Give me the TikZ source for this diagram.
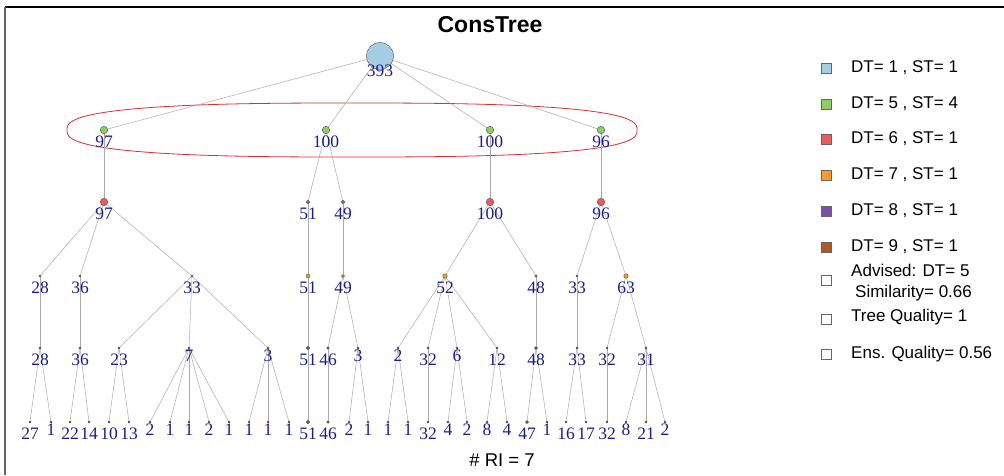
\documentclass[tikz,border=0pt]{standalone}
\usepackage{fontspec}
\setmainfont{Liberation Serif}
\setsansfont{Liberation Sans}
\usetikzlibrary{backgrounds}
\definecolor{NodeBlue}{RGB}{166, 206, 227}
\definecolor{NodeGreen}{RGB}{143, 204, 104}
\definecolor{NodeRed}{RGB}{236, 90, 90}
\definecolor{NodeOrange}{RGB}{255, 153, 43}
\definecolor{NodePurple}{RGB}{123, 79, 166}
\definecolor{NodeBrown}{RGB}{176, 88, 40}
\definecolor{LabelNavy}{RGB}{28, 28, 140}
\definecolor{EdgeGray}{RGB}{170, 170, 170}
\definecolor{RingRed}{RGB}{214, 48, 48}

\begin{document}
\begin{tikzpicture}[x=1pt, y=-1pt,
    dot/.style={circle, draw=black!70, line width=0.4pt, fill=#1, inner sep=0pt},
    num/.style={font=\fontsize{17.5}{18}\selectfont, text=LabelNavy, inner sep=0pt},
    tag/.style={label={[num, yshift=-12pt]center:#1}},
    tagup/.style={label={[num, yshift=-8pt]center:#1}},
    edge/.style={draw=EdgeGray, line width=0.5pt},
    key/.style={draw=black!60, line width=0.6pt, minimum size=10pt, inner sep=0pt},
    keytext/.style={font=\sffamily\fontsize{17}{21}\selectfont, anchor=west, inner sep=0pt, align=left}]
  \useasboundingbox (0,0) rectangle (1004,475);

  % frame
  \draw[line width=2pt] (5,7) -- (1004,7);
  \draw[line width=1.5pt, black!60] (5,7) -- (5,475);

  \node[font=\sffamily\bfseries\fontsize{23}{26}\selectfont, inner sep=0pt] (title) at (490,25) {ConsTree};
  \node[font=\sffamily\fontsize{18.5}{20}\selectfont, inner sep=0pt] (ri) at (502,460) {\# RI = 7};

  % root
  \node[dot=NodeBlue, minimum size=27pt, label={[num, yshift=-15pt]center:393}] (r) at (380,56) {};

  % DT = 5
  \node[dot=NodeGreen, minimum size=7.5pt, tag=97] (a1) at (104,130) {};
  \node[dot=NodeGreen, minimum size=7.5pt, tag=100] (a2) at (326,130) {};
  \node[dot=NodeGreen, minimum size=7.5pt, tag=100] (a3) at (490,130) {};
  \node[dot=NodeGreen, minimum size=7.5pt, tag=96] (a4) at (601,130) {};

  % DT = 6
  \node[dot=NodeRed, minimum size=7.5pt, tag=97] (b1) at (104,202) {};
  \node[dot=NodeRed, minimum size=3.5pt, tag=51] (b2) at (308,202) {};
  \node[dot=NodeRed, minimum size=3.5pt, tag=49] (b3) at (343,202) {};
  \node[dot=NodeRed, minimum size=7.5pt, tag=100] (b4) at (490,202) {};
  \node[dot=NodeRed, minimum size=7.5pt, tag=96] (b5) at (601,202) {};

  % DT = 7
  \node[dot=NodeOrange, minimum size=2pt, tag=28] (c1) at (40,276) {};
  \node[dot=NodeOrange, minimum size=2pt, tag=36] (c2) at (80,276) {};
  \node[dot=NodeOrange, minimum size=2pt, tag=33] (c3) at (192,276) {};
  \node[dot=NodeOrange, minimum size=4pt, tag=51] (c4) at (308,276) {};
  \node[dot=NodeOrange, minimum size=3pt, tag=49] (c5) at (343,276) {};
  \node[dot=NodeOrange, minimum size=4.5pt, tag=52] (c6) at (445,276) {};
  \node[dot=NodeOrange, minimum size=2.5pt, tag=48] (c7) at (536,276) {};
  \node[dot=NodeOrange, minimum size=2pt, tag=33] (c8) at (577,276) {};
  \node[dot=NodeOrange, minimum size=4.5pt, tag=63] (c9) at (626,276) {};

  % DT = 8
  \node[dot=NodePurple, minimum size=2pt, tag=28] (d1) at (40,348) {};
  \node[dot=NodePurple, minimum size=2pt, tag=36] (d2) at (80,348) {};
  \node[dot=NodePurple, minimum size=2pt, tag=23] (d3) at (119,348) {};
  \node[dot=NodePurple, minimum size=2pt, tagup=7] (d4) at (189,348) {};
  \node[dot=NodePurple, minimum size=2pt, tagup=3] (d5) at (268,348) {};
  \node[dot=NodePurple, minimum size=3.5pt, tag=51] (d6) at (308,348) {};
  \node[dot=NodePurple, minimum size=2.5pt, tag=46] (d7) at (328,348) {};
  \node[dot=NodePurple, minimum size=2pt, tagup=3] (d8) at (358,348) {};
  \node[dot=NodePurple, minimum size=2pt, tagup=2] (d9) at (398,348) {};
  \node[dot=NodePurple, minimum size=2pt, tag=32] (d10) at (428,348) {};
  \node[dot=NodePurple, minimum size=2pt, tagup=6] (d11) at (457,348) {};
  \node[dot=NodePurple, minimum size=2pt, tag=12] (d12) at (497,348) {};
  \node[dot=NodePurple, minimum size=3pt, tag=48] (d13) at (536,348) {};
  \node[dot=NodePurple, minimum size=2pt, tag=33] (d14) at (577,348) {};
  \node[dot=NodePurple, minimum size=2pt, tag=32] (d15) at (607,348) {};
  \node[dot=NodePurple, minimum size=2pt, tag=31] (d16) at (646,348) {};

  % DT = 9
  \node[dot=NodeBrown, minimum size=2pt, tag=27] (e1) at (30,422) {};
  \node[dot=NodeBrown, minimum size=2pt, tagup=1] (e2) at (51,422) {};
  \node[dot=NodeBrown, minimum size=2pt, tag=22] (e3) at (70,422) {};
  \node[dot=NodeBrown, minimum size=2pt, tag=14] (e4) at (89,422) {};
  \node[dot=NodeBrown, minimum size=2pt, tag=10] (e5) at (109,422) {};
  \node[dot=NodeBrown, minimum size=2pt, tag=13] (e6) at (129,422) {};
  \node[dot=NodeBrown, minimum size=2pt, tagup=2] (e7) at (150,422) {};
  \node[dot=NodeBrown, minimum size=2pt, tagup=1] (e8) at (170,422) {};
  \node[dot=NodeBrown, minimum size=2pt, tagup=1] (e9) at (189,422) {};
  \node[dot=NodeBrown, minimum size=2pt, tagup=2] (e10) at (209,422) {};
  \node[dot=NodeBrown, minimum size=2pt, tagup=1] (e11) at (229,422) {};
  \node[dot=NodeBrown, minimum size=2pt, tagup=1] (e12) at (249,422) {};
  \node[dot=NodeBrown, minimum size=2pt, tagup=1] (e13) at (268,422) {};
  \node[dot=NodeBrown, minimum size=2pt, tagup=1] (e14) at (289,422) {};
  \node[dot=NodeBrown, minimum size=3.5pt, tag=51] (e15) at (308,422) {};
  \node[dot=NodeBrown, minimum size=2.5pt, tag=46] (e16) at (328,422) {};
  \node[dot=NodeBrown, minimum size=2pt, tagup=2] (e17) at (349,422) {};
  \node[dot=NodeBrown, minimum size=2pt, tagup=1] (e18) at (368,422) {};
  \node[dot=NodeBrown, minimum size=2pt, tagup=1] (e19) at (388,422) {};
  \node[dot=NodeBrown, minimum size=2pt, tagup=1] (e20) at (408,422) {};
  \node[dot=NodeBrown, minimum size=2pt, tag=32] (e21) at (428,422) {};
  \node[dot=NodeBrown, minimum size=2pt, tagup=4] (e22) at (448,422) {};
  \node[dot=NodeBrown, minimum size=2pt, tagup=2] (e23) at (467,422) {};
  \node[dot=NodeBrown, minimum size=2pt, tagup=8] (e24) at (487,422) {};
  \node[dot=NodeBrown, minimum size=2pt, tagup=4] (e25) at (507,422) {};
  \node[dot=NodeBrown, minimum size=3pt, tag=47] (e26) at (527,422) {};
  \node[dot=NodeBrown, minimum size=2pt, tagup=1] (e27) at (547,422) {};
  \node[dot=NodeBrown, minimum size=2pt, tag=16] (e28) at (566,422) {};
  \node[dot=NodeBrown, minimum size=2pt, tag=17] (e29) at (586,422) {};
  \node[dot=NodeBrown, minimum size=2pt, tag=32] (e30) at (607,422) {};
  \node[dot=NodeBrown, minimum size=2pt, tagup=8] (e31) at (626,422) {};
  \node[dot=NodeBrown, minimum size=2pt, tag=21] (e32) at (646,422) {};
  \node[dot=NodeBrown, minimum size=2pt, tagup=2] (e33) at (665,422) {};

  % ring and edges
  \begin{scope}[on background layer]
    \draw[RingRed, line width=0.8pt, domain=0.5:360.5, samples=144, smooth]
      plot ({352+285*sign(cos(\x))*pow(abs(cos(\x)),0.74)}, {130+27*sign(sin(\x))*pow(abs(sin(\x)),0.74)});
    \foreach \p/\c in {r/a1, r/a2, r/a3, r/a4, a1/b1, a2/b2, a2/b3, a3/b4, a4/b5,
        b1/c1, b1/c2, b1/c3, b2/c4, b3/c5, b4/c6, b4/c7, b5/c8, b5/c9,
        c1/d1, c2/d2, c3/d3, c3/d4, c3/d5, c4/d6, c5/d7, c5/d8, c6/d9, c6/d10, c6/d11, c6/d12,
        c7/d13, c8/d14, c9/d15, c9/d16,
        d1/e1, d1/e2, d2/e3, d2/e4, d3/e5, d3/e6, d4/e7, d4/e8, d4/e9, d4/e10, d4/e11,
        d5/e12, d5/e13, d5/e14, d6/e15, d7/e16, d8/e17, d8/e18, d9/e19, d9/e20, d10/e21,
        d11/e22, d11/e23, d12/e24, d12/e25, d13/e26, d13/e27, d14/e28, d14/e29, d15/e30,
        d16/e31, d16/e32, d16/e33}
      \draw[edge] (\p) -- (\c);
  \end{scope}

  % legend
  \node[key, fill=NodeBlue] (k1) at (826,68) {};
  \node[key, fill=NodeGreen] (k2) at (826,104) {};
  \node[key, fill=NodeRed] (k3) at (826,139) {};
  \node[key, fill=NodeOrange] (k4) at (826,175) {};
  \node[key, fill=NodePurple] (k5) at (826,211) {};
  \node[key, fill=NodeBrown] (k6) at (826,247) {};
  \node[key, fill=white] (k7) at (826,280) {};
  \node[key, fill=white] (k8) at (826,319) {};
  \node[key, fill=white] (k9) at (826,354) {};
  \node[keytext] (t1) at (851,68) {DT= 1 , ST= 1};
  \node[keytext] (t2) at (851,104) {DT= 5 , ST= 4};
  \node[keytext] (t3) at (851,139) {DT= 6 , ST= 1};
  \node[keytext] (t4) at (851,175) {DT= 7 , ST= 1};
  \node[keytext] (t5) at (851,211) {DT= 8 , ST= 1};
  \node[keytext] (t6) at (851,247) {DT= 9 , ST= 1};
  \node[keytext] (t7) at (851,283) {Advised: DT= 5\\\hspace{4pt}Similarity= 0.66};
  \node[keytext] (t8) at (851,317) {Tree Quality= 1};
  \node[keytext] (t9) at (851,354) {Ens. Quality= 0.56};
\end{tikzpicture}
\end{document}
